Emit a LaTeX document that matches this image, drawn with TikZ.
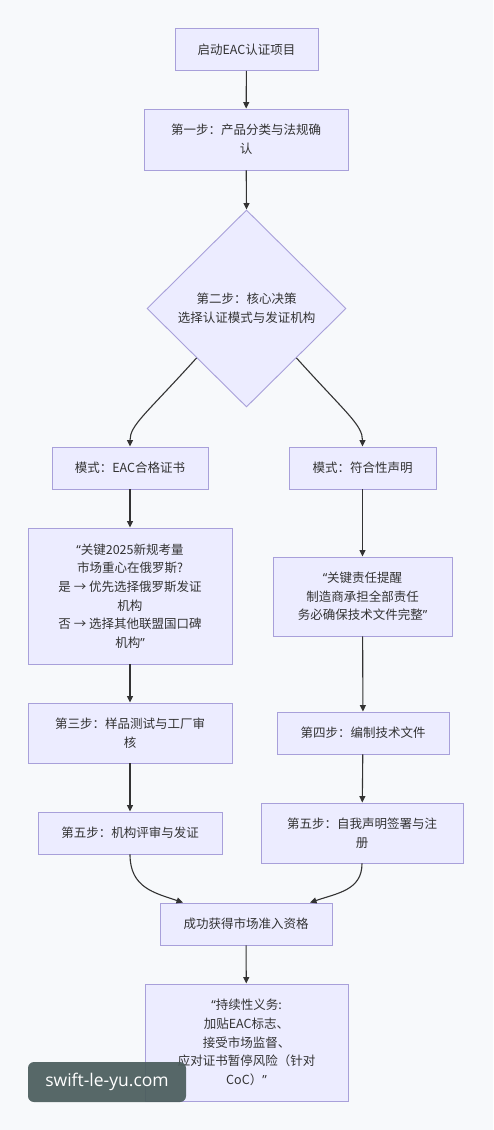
\documentclass[tikz,border=0pt]{standalone}
\usepackage{fontspec}
\setmainfont{Noto Sans CJK SC}
\newfontfamily\latinfont{Noto Sans}
\newfontfamily\wmfont{Open Sans}
\usetikzlibrary{shapes.geometric,arrows.meta}
\definecolor{bgc}{HTML}{F7F9FB}
\definecolor{boxfill}{HTML}{ECECFF}
\definecolor{boxline}{HTML}{A8A0DA}
\definecolor{linec}{HTML}{333333}
\definecolor{textc}{HTML}{333333}
\definecolor{wmc}{HTML}{4A5C5C}
\newcommand{\myqo}{{\latinfont “}}
\newcommand{\myqc}{{\latinfont ”}}
\tikzset{
  box/.style={draw=boxline, fill=boxfill, line width=0.9pt, align=center,
    font=\fontsize{12.5}{18.6}\selectfont, text=textc, inner sep=0pt},
  dia/.style={box, shape=diamond, aspect=1},
  conn/.style={draw=linec, line width=1.1pt, -{Triangle[length=6.5pt,width=6pt]}},
}
\begin{document}
\begin{tikzpicture}[x=1pt,y=-1pt]
\fill[bgc] (0,0) rectangle (493,1130);
\useasboundingbox (0,0) rectangle (493,1130);

\node[box, minimum width=143pt, minimum height=42pt] (start) at (246.5,49.5) {启动EAC认证项目};
\node[box, minimum width=204pt, minimum height=61pt] (step1) at (246,139.5) {第一步：产品分类与法规确\\认};
\node[dia, minimum width=199pt, minimum height=197pt] (dec) at (246.5,308.5) {第二步：核心决策\\选择认证模式与发证机构};

\node[box, minimum width=156pt, minimum height=42pt] (modeL) at (130,468) {模式：EAC合格证书};
\node[box, minimum width=147pt, minimum height=42pt] (modeR) at (362.5,468) {模式：符合性声明};

\node[box, minimum width=204pt, minimum height=136pt] (quoteL) at (130,596) {\myqo 关键2025新规考量\\市场重心在俄罗斯?\\是 → 优先选择俄罗斯发证\\机构\\否 → 选择其他联盟国口碑\\机构\myqc};
\node[box, minimum width=179pt, minimum height=79pt] (quoteR) at (362.5,596.5) {\myqo 关键责任提醒\\制造商承担全部责任\\务必确保技术文件完整\myqc};

\node[box, minimum width=204pt, minimum height=60pt] (step3) at (130,733) {第三步：样品测试与工厂审\\核};
\node[box, minimum width=184pt, minimum height=42pt] (step5L) at (130,833) {第五步：机构评审与发证};
\node[box, minimum width=172pt, minimum height=42pt] (step4) at (363,733) {第四步：编制技术文件};
\node[box, minimum width=202pt, minimum height=60pt] (step5R) at (362,833) {第五步：自我声明签署与注\\册};

\node[box, minimum width=172pt, minimum height=42pt] (success) at (246,924) {成功获得市场准入资格};
\node[box, minimum width=203pt, minimum height=117pt] (final) at (246.5,1042.5) {\myqo 持续性义务:\\加贴EAC标志、\\接受市场监督、\\应对证书暂停风险（针对\\CoC）\myqc};

\coordinate (inL) at ([xshift=-63pt]success.north);
\coordinate (inR) at ([xshift=64pt]success.north);

\draw[conn] (start) -- (step1);
\draw[conn] (step1) -- (dec.north);
\draw[conn] (dec.south west) .. controls (146,414) and (130,425) .. (modeL.north);
\draw[conn] (dec.south east) .. controls (347,414) and (362.5,425) .. (modeR.north);
\draw[conn] (modeL) -- (quoteL);
\draw[conn] (quoteL) -- (step3);
\draw[conn] (step3) -- (step5L);
\draw[conn] (modeR) -- (quoteR);
\draw[conn] (quoteR) -- (step4);
\draw[conn] (step4) -- (step5R);
\draw[conn] (step5L.south) .. controls (130,888) and (155,893) .. (inL);
\draw[conn] (step5R.south) .. controls (362,890) and (338,893) .. (inR);
\draw[conn] (success) -- (final);

\node[fill=wmc, fill opacity=0.92, text opacity=1, text=white, rounded corners=6pt,
  minimum width=158pt, minimum height=40pt, inner sep=0pt,
  font=\wmfont\fontsize{17.5}{20}\selectfont] (wm) at (107,1082) {swift-le-yu.com};
\end{tikzpicture}
\end{document}
